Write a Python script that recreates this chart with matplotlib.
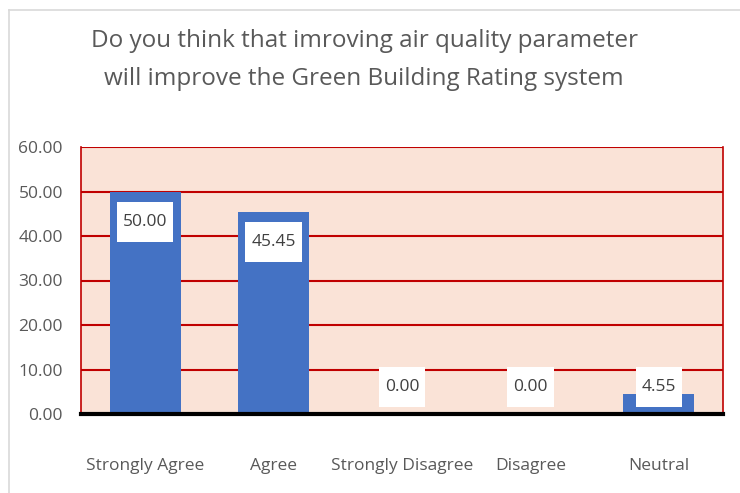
import matplotlib.pyplot as plt
from matplotlib.patches import Rectangle
from matplotlib.lines import Line2D
from matplotlib.transforms import IdentityTransform

categories = ['Strongly Agree', 'Agree', 'Strongly Disagree', 'Disagree', 'Neutral']
values = [50.00, 45.45, 0.00, 0.00, 4.55]
yticks = [0, 10, 20, 30, 40, 50, 60]

plt.rcParams['font.family'] = ['Open Sans', 'DejaVu Sans']
gray = '#595959'

fig = plt.figure(figsize=(7.4, 4.93), dpi=100)
ax = fig.add_axes([81 / 740, 1 - 414 / 493, 642 / 740, 267 / 493])
ax.set_facecolor('#FAE3D7')

x = range(len(categories))
ax.bar(x, values, width=0.55, color='#4472C4', zorder=3)
ax.set_xlim(-0.5, len(categories) - 0.5)
ax.set_ylim(0, 60)
ax.set_yticks(yticks)
ax.set_yticklabels([f'{t:.2f}' for t in yticks], color=gray, fontsize=12.5)
ax.set_xticks(list(x))
ax.set_xticklabels(categories, color=gray, fontsize=12.5)
ax.tick_params(length=0)
ax.tick_params(axis='x', pad=32)
ax.tick_params(axis='y', pad=13)

for t in yticks[1:]:
    ax.axhline(t, color='#C00000', lw=1.5, zorder=1)
for side in ['left', 'right']:
    ax.spines[side].set_color('#C00000')
    ax.spines[side].set_linewidth(1.2)
ax.spines['top'].set_visible(False)
ax.spines['bottom'].set_color('black')
ax.spines['bottom'].set_linewidth(3)
ax.spines['bottom'].set_zorder(5)

labels = []
for i, v in enumerate(values):
    ypos = max(v - 6.85, 6.07)
    t = ax.text(i, ypos, f'{v:.2f}', ha='center', va='center', fontsize=12.5,
                color='#404040', zorder=7)
    labels.append(t)

fig.text(0.492, 0.878, 'Do you think that imroving air quality parameter\nwill improve the Green Building Rating system',
         ha='center', va='center', fontsize=17.5, color=gray, linespacing=1.75)

# white label boxes sized in pixels around each text
fig.canvas.draw()
for t in labels:
    ext = t.get_window_extent()
    cx = (ext.x0 + ext.x1) / 2
    cy = (ext.y0 + ext.y1) / 2
    w = ext.width + 12
    h = 40
    ax.add_patch(Rectangle((cx - w / 2, cy - h / 2), w, h, transform=IdentityTransform(),
                           facecolor='white', edgecolor='none', zorder=6, clip_on=False))

fig.add_artist(Line2D([9 / 740, 1], [1 - 10 / 493] * 2, color='#D9D9D9', lw=1.2))
fig.add_artist(Line2D([9 / 740] * 2, [0, 1 - 10 / 493], color='#D9D9D9', lw=1.2))

fig.savefig('out.png', dpi=100)
